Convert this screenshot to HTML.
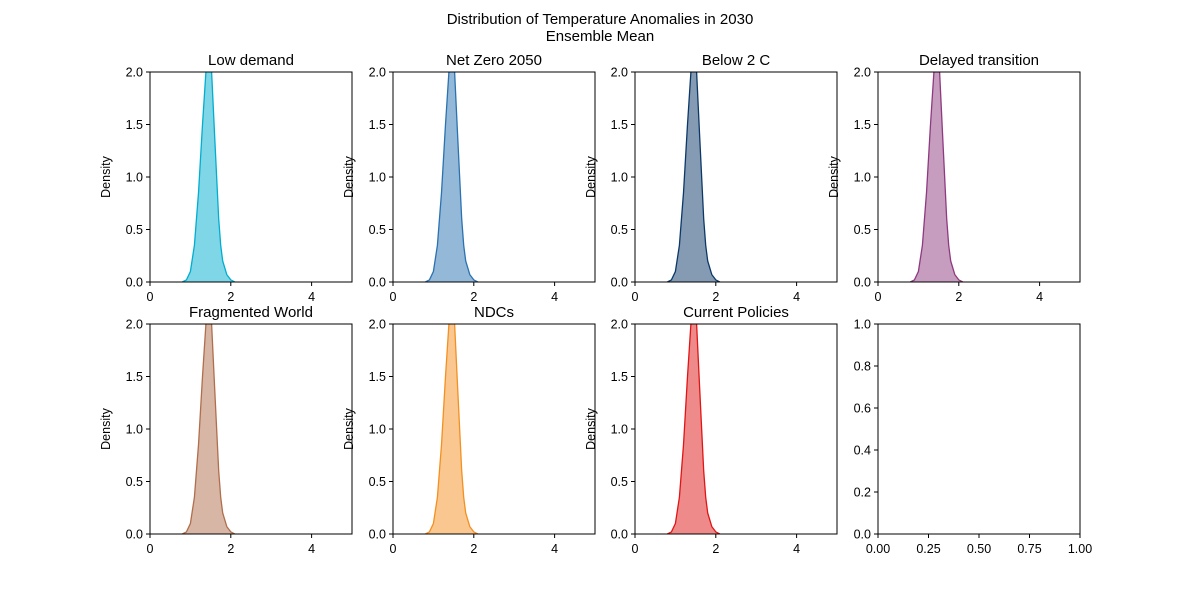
<!DOCTYPE html>
<html><head><meta charset="utf-8"><style>
body{margin:0;background:#fff}
svg text{font-family:"Liberation Sans","DejaVu Sans",sans-serif;fill:#000}
</style></head><body>
<svg id="fig" width="1200" height="600" viewBox="0 0 1200 600">
<text x="600" y="24" text-anchor="middle" font-size="15">Distribution of Temperature Anomalies in 2030</text>
<text x="600" y="41" text-anchor="middle" font-size="15">Ensemble Mean</text>
</svg>
<script>
const scenarios = ["Low demand","Net Zero 2050","Below 2 C","Delayed transition","Fragmented World","NDCs","Current Policies"];
const colors = ["#00aed0","#2a72b0","#0c3868","#8e3a80","#b06e4c","#f39020","#e01515"];
const kdeX = [0.8,0.9,1.0,1.1,1.2,1.3,1.4,1.45,1.5,1.6,1.7,1.75,1.8,1.9,2.0,2.1];
const kdeY = [0,0.02,0.1,0.35,0.85,1.5,2.1,2.3,2.2,1.4,0.6,0.35,0.2,0.07,0.02,0];
const yTicks = [0,0.5,1.0,1.5,2.0];
const xTicks = [0,2,4];
const emptyYTicks = [0,0.2,0.4,0.6,0.8,1.0];
const emptyXTicks = [0,0.25,0.5,0.75,1.0];
const NS="http://www.w3.org/2000/svg";
const svg=document.getElementById('fig');
function mk(t,a,p){const e=document.createElementNS(NS,t);for(const k in a)e.setAttribute(k,a[k]);(p||svg).appendChild(e);return e;}
const cols=[150,393,635,878], rows=[72,324], W=202, H=210;
for(let i=0;i<8;i++){
  const x0=cols[i%4], y0=rows[Math.floor(i/4)];
  const g=mk('g',{});
  
  
  const empty=i===7;
  const xmax=empty?1:5, ymax=empty?1:2;
  const sx=v=>x0+v/xmax*W, sy=v=>y0+H-v/ymax*H;
  if(!empty){
    mk('clipPath',{id:'c'+i},g);
    mk('rect',{x:x0,y:y0,width:W,height:H},g.lastChild);
    let d='M'+sx(kdeX[0])+','+sy(0);
    kdeX.forEach((x,j)=>{d+=' L'+sx(x).toFixed(1)+','+sy(kdeY[j]).toFixed(1);});
    const area=mk('path',{d:d+' Z',fill:colors[i],'fill-opacity':0.5,stroke:'none','clip-path':'url(#c'+i+')'},g);
    
    
    let l='';kdeX.forEach((x,j)=>{l+=(j?' L':'M')+sx(x).toFixed(1)+','+sy(kdeY[j]).toFixed(1);});
    const line=mk('path',{d:l,fill:'none',stroke:colors[i],'stroke-width':1.3,'clip-path':'url(#c'+i+')'},g);
    
    
    const t=mk('text',{x:x0+W/2,y:y0-7,'text-anchor':'middle','font-size':15},g);t.textContent=scenarios[i];
    
    
    const yl=mk('text',{x:0,y:0,'text-anchor':'middle','font-size':12.5,transform:`translate(${x0-40},${y0+H/2}) rotate(-90)`},g);yl.textContent='Density';
    
    
  }
  mk('rect',{x:x0,y:y0,width:W,height:H,fill:'none',stroke:'#000','stroke-width':1},g);
  const yt=empty?emptyYTicks:yTicks, xt=empty?emptyXTicks:xTicks;
  yt.forEach(v=>{mk('line',{x1:x0-4,x2:x0,y1:sy(v),y2:sy(v),stroke:'#000'},g);
    const t=mk('text',{x:x0-7,y:sy(v)+4.5,'text-anchor':'end','font-size':12.5},g);t.textContent=v.toFixed(1);
    });
  xt.forEach(v=>{mk('line',{x1:sx(v),x2:sx(v),y1:y0+H,y2:y0+H+4,stroke:'#000'},g);
    const t=mk('text',{x:sx(v),y:y0+H+19,'text-anchor':'middle','font-size':12.5},g);t.textContent=empty?v.toFixed(2):String(v);
    });
}
</script>
</body></html>
